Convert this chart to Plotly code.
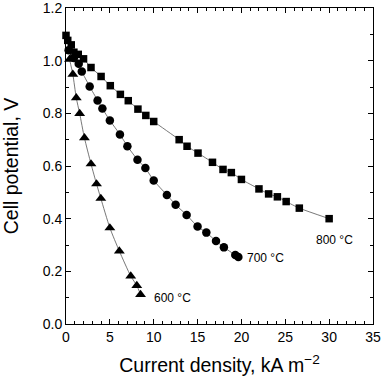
import plotly.graph_objects as go

# 800 °C (squares)
sq_x = [0, 0.2, 0.6, 0.9, 1.4, 2.0, 2.85, 4.0, 5.05, 6.2, 7.1, 8.2, 9.1, 10.0, 12.9, 13.8,
        15.05, 16.7, 17.9, 18.85, 20.0, 22.0, 23.1, 24.1, 25.1, 26.6, 30.0]
sq_y = [1.096, 1.077, 1.06, 1.032, 1.024, 1.007, 0.974, 0.94, 0.905, 0.872, 0.848, 0.816,
        0.792, 0.769, 0.70, 0.675, 0.649, 0.614, 0.587, 0.575, 0.549, 0.513, 0.494, 0.483,
        0.465, 0.44, 0.40]

# 700 °C (circles)
circ_x = [0.3, 0.9, 1.45, 1.8, 2.7, 3.6, 4.15, 5.0, 6.15, 7.0, 8.15, 9.05, 10.0, 11.5, 12.5,
          13.75, 15.0, 16.0, 17.1, 18.0, 19.3, 19.65]
circ_y = [1.04, 1.01, 0.988, 0.959, 0.902, 0.849, 0.818, 0.773, 0.72, 0.675, 0.624, 0.592,
          0.545, 0.49, 0.453, 0.414, 0.37, 0.347, 0.315, 0.291, 0.262, 0.254]

# 600 °C (triangles)
tri_x = [0.4, 0.78, 1.17, 1.56, 2.1, 2.85, 3.48, 3.97, 5.0, 6.08, 7.38, 8.07, 8.5]
tri_y = [1.005, 0.948, 0.859, 0.799, 0.707, 0.608, 0.532, 0.477, 0.365, 0.277, 0.182, 0.146, 0.112]

labels = ["800 °C", "700 °C", "600 °C"]
label_x = [28.3, 20.4, 9.8]
label_y = [0.32, 0.25, 0.10]

x_ticks = [0, 5, 10, 15, 20, 25, 30, 35]
y_ticks = [0.0, 0.2, 0.4, 0.6, 0.8, 1.0, 1.2]

FONT = "Liberation Sans, Arial, sans-serif"
fig = go.Figure()
series = [(sq_x, sq_y, "square", 7.5), (circ_x, circ_y, "circle", 8.5), (tri_x, tri_y, "triangle-up", 9.5)]
for xs, ys, sym, sz in series:
    fig.add_trace(go.Scatter(x=xs, y=ys, mode="lines+markers",
                             line=dict(color="#555555", width=0.8, shape="spline", smoothing=0.6),
                             marker=dict(symbol=sym, size=sz, color="black"),
                             showlegend=False, cliponaxis=False))

for t, lx, ly in zip(labels, label_x, label_y):
    fig.add_annotation(x=lx, y=ly, text=t, showarrow=False, xanchor="left", yanchor="middle",
                       font=dict(family=FONT, size=12, color="black"))

axis_common = dict(showline=True, linecolor="black", linewidth=1, mirror="allticks",
                   ticks="inside", ticklen=5, tickwidth=1, tickcolor="black",
                   showgrid=False, zeroline=False, automargin=False,
                   ticklabeloverflow="allow",
                   tickfont=dict(family=FONT, size=14, color="black"))

fig.update_xaxes(range=[0, 35], tickvals=x_ticks, ticktext=[str(v) for v in x_ticks],
                 minor=dict(dtick=1, ticks="inside", ticklen=3, tickcolor="black", showgrid=False),
                 title=dict(text="Current density, kA m<sup>−2</sup>", standoff=14,
                            font=dict(family=FONT, size=19.5, color="black")),
                 **axis_common)
fig.update_yaxes(range=[0, 1.2], tickvals=y_ticks, ticktext=[f"{v:.1f}" for v in y_ticks],
                 minor=dict(dtick=0.1, ticks="inside", ticklen=3, tickcolor="black", showgrid=False),
                 title=dict(text="Cell potential, V", standoff=20,
                            font=dict(family=FONT, size=19.5, color="black")),
                 **axis_common)

fig.update_layout(width=382, height=384, margin=dict(l=66, r=9, t=8, b=60, autoexpand=False),
                  plot_bgcolor="white", paper_bgcolor="white")
fig.write_html("out.html", config={"displayModeBar": False},
               post_script="document.body.style.margin='0';")
